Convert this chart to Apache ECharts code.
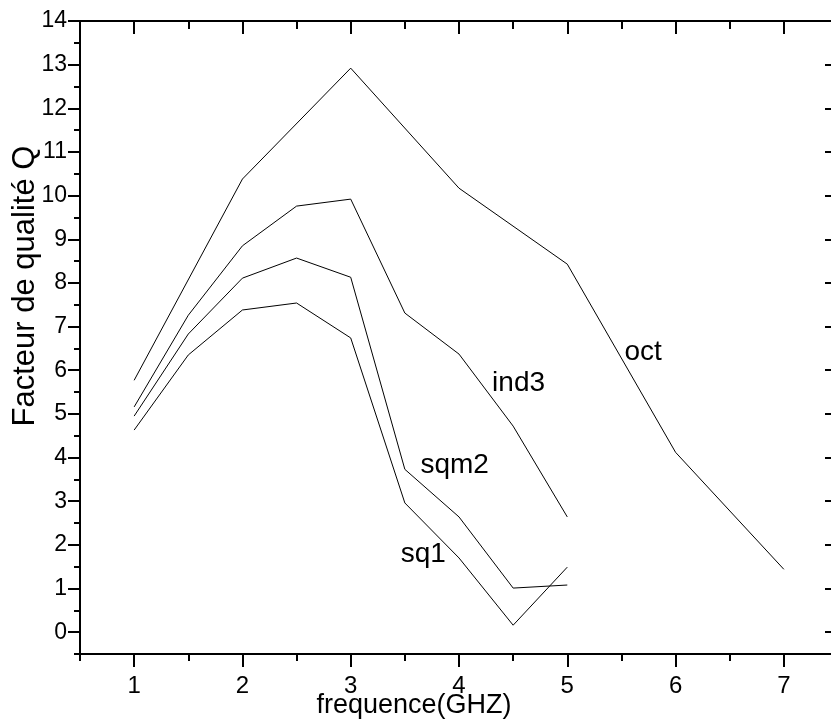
<!DOCTYPE html>
<html>
<head>
<meta charset="utf-8">
<script src="https://cdn.jsdelivr.net/npm/echarts@6/dist/echarts.min.js"></script>
<style>
html,body{margin:0;padding:0;background:#fff;}
#chart{width:831px;height:720px;}
</style>
</head>
<body>
<div id="chart"></div>
<script>
// Data
const xOct  = [1, 2, 3, 4, 5, 6, 7];
const yOct  = [5.77, 10.38, 12.92, 10.17, 8.43, 4.12, 1.44];
const xHalf = [1, 1.5, 2, 2.5, 3, 3.5, 4, 4.5, 5];
const yInd3 = [5.16, 7.26, 8.85, 9.76, 9.92, 7.31, 6.37, 4.72, 2.64];
const ySqm2 = [4.95, 6.83, 8.11, 8.57, 8.13, 3.73, 2.64, 1.01, 1.08];
const ySq1  = [4.63, 6.35, 7.38, 7.54, 6.74, 2.96, 1.70, 0.16, 1.49];

const seriesNames = ['oct', 'ind3', 'sqm2', 'sq1'];
const labelX = [5.70, 4.55, 3.96, 3.67];
const labelY = [6.40, 5.70, 3.82, 1.78];

const xMajor = [1, 2, 3, 4, 5, 6, 7];
const xMinor = [0.5, 1.5, 2.5, 3.5, 4.5, 5.5, 6.5, 7.5];
const yMajor = [0,1,2,3,4,5,6,7,8,9,10,11,12,13,14];
const yMinor = [-0.5,0.5,1.5,2.5,3.5,4.5,5.5,6.5,7.5,8.5,9.5,10.5,11.5,12.5,13.5];

const xTitle = 'frequence(GHZ)';
const yTitle = 'Facteur de qualité Q';

const FONT = '"Liberation Sans", Arial, sans-serif';

function pairs(xs, ys){ return xs.map((x,i)=>[x, ys[i]]); }

const chart = echarts.init(document.getElementById('chart'), null, {renderer:'canvas'});

const lineStyleAxis = {color:'#000', width:2};
function xAx(pos, ticks, len, inside, labels, showLine){
  return {
    type:'value', position:pos, min:0.5, max:7.5,
    axisLine:{show:showLine, onZero:false, lineStyle:lineStyleAxis},
    axisTick:{show:true, customValues:ticks, length:len, inside:inside, lineStyle:{color:'#000', width:2}},
    axisLabel: labels ? {show:true, customValues:ticks, margin:20, color:'#000', fontSize:24, fontFamily:FONT} : {show:false},
    splitLine:{show:false}
  };
}
function yAx(pos, ticks, len, inside, labels, showLine){
  return {
    type:'value', position:pos, min:-0.5, max:14,
    axisLine:{show:showLine, onZero:false, lineStyle:lineStyleAxis},
    axisTick:{show:true, customValues:ticks, length:len, inside:inside, lineStyle:{color:'#000', width:2}},
    axisLabel: labels ? {show:true, customValues:ticks, margin:13, color:'#000', fontSize:23, fontFamily:FONT} : {show:false},
    splitLine:{show:false}
  };
}

const allY = [yOct, yInd3, ySqm2, ySq1];
const allX = [xOct, xHalf, xHalf, xHalf];

const series = seriesNames.map((name, i) => ({
  name: name,
  type: 'line',
  data: pairs(allX[i], allY[i]),
  symbol: 'none',
  lineStyle: {color:'#000', width:1},
  silent: true,
  animation: false,
  markPoint: {
    symbol: 'circle', symbolSize: 0,
    data: [{coord:[labelX[i], labelY[i]], name:name}],
    label: {show:true, position:'inside', formatter:name, color:'#000', fontSize:28, fontFamily:FONT},
    animation: false
  }
}));

chart.setOption({
  backgroundColor:'#fff',
  animation:false,
  grid:{left:80, top:21, width:758, height:633, containLabel:false, outerBoundsMode:'none'},
  xAxis:[
    xAx('bottom', xMajor, 13, false, true, true),
    xAx('bottom', xMinor, 7, false, false, false),
    xAx('top', xMajor, 13, true, false, true),
    xAx('top', xMinor, 8, true, false, false)
  ],
  yAxis:[
    yAx('left', yMajor, 12, false, true, true),
    yAx('left', yMinor, 6, false, false, false),
    yAx('right', yMajor, 13, true, false, true),
    yAx('right', yMinor, 6, true, false, false)
  ],
  series: series,
  graphic:[
    {type:'text', x:414, y:706, silent:true,
     style:{text:xTitle, font:'27px ' + FONT, fill:'#000', align:'center', verticalAlign:'middle'}},
    {type:'text', x:25, y:286, rotation:Math.PI/2, silent:true,
     style:{text:yTitle, font:'31px ' + FONT, fill:'#000', align:'center', verticalAlign:'middle'}}
  ]
});
</script>
</body>
</html>
